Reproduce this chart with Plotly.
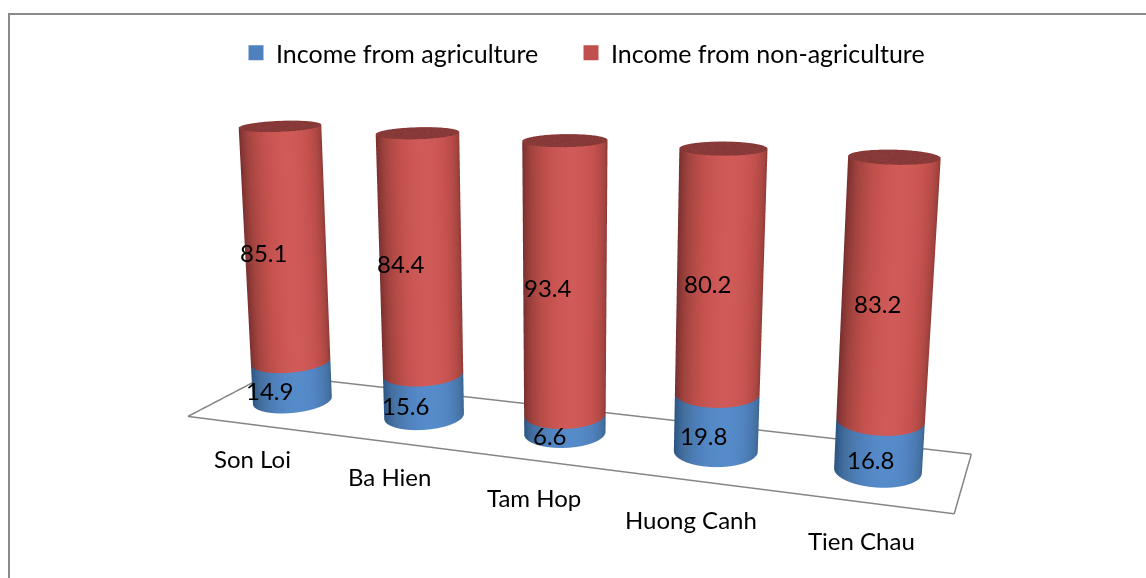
import numpy as np
import plotly.graph_objects as go

categories = ["Son Loi", "Ba Hien", "Tam Hop", "Huong Canh", "Tien Chau"]
agriculture = [14.9, 15.6, 6.6, 19.8, 16.8]
non_agriculture = [85.1, 84.4, 93.4, 80.2, 83.2]
series_names = ["Income from agriculture", "Income from non-agriculture"]

# label nudges in px (right, up) from the projected anchor
agri_shift = [(-22, -10), (-18, -11), (-15, -12), (-13, -13), (-9, -15)]
nonagri_shift = [(-22, -7), (-20, -8), (-17, -7), (-13, -10), (-10, -12)]
cat_shift = [(0, -36), (0, -36), (-2, -39), (-3, -41), (-3, -40)]

# page layout helpers (px in the 1146x578 window)
W, H, TOP = 1146, 1234, 327
def px(x): return x / W
def py(y): return 1 - (y + TOP) / H

FLOOR_X, FLOOR_Y, COL_H = 1.583, 0.327, 0.6
RADIUS = 0.0815
rx = RADIUS * 5 / FLOOR_X
ry = 1.15 * RADIUS * 1 / FLOOR_Y
AZ = np.radians(20.0)
DIST_H = 2.89
Z_LOW, FLOOR_Z = -2, -0.7
LIFT = COL_H * (-Z_LOW / 2) / 100
EYE = dict(x=DIST_H * np.sin(AZ), y=-DIST_H * np.cos(AZ), z=0.7 + LIFT)
PAD = 0.04  # margin of the 3D box around the floor

BLUE_SCALE = [[0, "#2c5585"], [0.4, "#44709f"], [0.8, "#4f81bd"], [1, "#568bca"]]
RED_SCALE = [[0, "#7b3130"], [0.4, "#a3443f"], [0.8, "#c4514e"], [1, "#cf5a58"]]
RED_CAP = "#8f3e3c"
theta = np.linspace(0, 2 * np.pi, 121)

LIGHT = dict(ambient=1, diffuse=0, specular=0, roughness=1, fresnel=0)
traces = []

def side(cx, z0, z1, scale):
    wx = (cx / 5 - 0.5) * FLOOR_X
    facing = np.arctan2(EYE["y"], EYE["x"] - wx)
    shade = np.clip(np.cos(theta - facing - np.radians(12)), 0, 1) ** 1.4
    x = np.array([cx + rx * np.cos(theta)] * 2)
    y = np.array([0.5 + ry * np.sin(theta)] * 2)
    z = np.array([np.full_like(theta, z0), np.full_like(theta, z1)])
    return go.Surface(x=x, y=y, z=z, surfacecolor=np.array([shade, shade]), colorscale=scale,
                      cmin=0, cmax=1, showscale=False, lighting=LIGHT, hoverinfo="skip")

def cap(cx, zv, color):
    rr = np.array([0, 1.0])
    x = cx + rx * np.outer(rr, np.cos(theta))
    y = 0.5 + ry * np.outer(rr, np.sin(theta))
    z = np.full_like(x, zv)
    return go.Surface(x=x, y=y, z=z, surfacecolor=np.zeros_like(x),
                      colorscale=[[0, color], [1, color]], showscale=False,
                      lighting=LIGHT, hoverinfo="skip")

for i in range(len(categories)):
    cx = i + 0.5
    a, b = agriculture[i], non_agriculture[i]
    traces.append(side(cx, 0, a, BLUE_SCALE))
    traces.append(side(cx, a, a + b, RED_SCALE))
    traces.append(cap(cx, a + b, RED_CAP))

for xs, ys in [([0, 5], [0, 0]), ([5, 5], [0, 1]), ([5, 0], [1, 1]), ([0, 0], [1, 0])]:
    traces.append(go.Scatter3d(x=xs, y=ys, z=[FLOOR_Z, FLOOR_Z], mode="lines",
                               line=dict(color="#858585", width=3), hoverinfo="skip", showlegend=False))

for name, col, lg in zip(series_names, ["#4F81BD", "#C0504D"], ["legend", "legend2"]):
    traces.append(go.Scatter(x=[None], y=[None], mode="markers", name=name, legend=lg,
                             marker=dict(symbol="square", size=15, color=col)))

FONT = dict(family="Lato, Carlito, sans-serif", size=24, color="#000000")
LEG_FONT = dict(FONT, size=25)
ann = []
for i in range(len(categories)):
    cx = i + 0.5
    a, b = agriculture[i], non_agriculture[i]
    ann.append(dict(x=cx, y=0.5, z=a / 2, text=f"{a}", showarrow=False, font=FONT,
                    xshift=agri_shift[i][0], yshift=agri_shift[i][1]))
    ann.append(dict(x=cx, y=0.5, z=a + b / 2, text=f"{b}", showarrow=False, font=FONT,
                    xshift=nonagri_shift[i][0], yshift=nonagri_shift[i][1]))
    ann.append(dict(x=cx, y=0, z=0, text=categories[i], showarrow=False, font=FONT,
                    xshift=cat_shift[i][0], yshift=cat_shift[i][1]))

hidden = dict(visible=False)
fig = go.Figure(traces)
LEGEND = dict(orientation="h", y=py(53), xanchor="left", yanchor="middle", font=LEG_FONT,
              bgcolor="rgba(0,0,0,0)")
fig.update_layout(
    width=W, height=H, autosize=False, margin=dict(l=0, r=0, t=0, b=0),
    paper_bgcolor="white", plot_bgcolor="white",
    xaxis=hidden, yaxis=hidden,
    font=FONT,
    legend=dict(LEGEND, x=px(236)),
    legend2=dict(LEGEND, x=px(571)),
    shapes=[dict(type="rect", xref="paper", yref="paper", x0=px(9), x1=px(1160), y0=py(14), y1=py(620),
                 line=dict(color="#8a8a8a", width=2), fillcolor="rgba(0,0,0,0)")],
    scene=dict(
        domain=dict(x=[0, 1130 / W], y=[0, 1]),
        xaxis=dict(range=[-PAD * 5, 5 + PAD * 5], **hidden),
        yaxis=dict(range=[-PAD, 1 + PAD], **hidden),
        zaxis=dict(range=[Z_LOW, 100], **hidden),
        aspectmode="manual",
        aspectratio=dict(x=FLOOR_X * (1 + 2 * PAD), y=FLOOR_Y * (1 + 2 * PAD), z=COL_H * (100 - Z_LOW) / 100),
        camera=dict(eye=EYE, center=dict(x=0, y=0, z=LIFT), up=dict(x=0, y=0, z=1),
                    projection=dict(type="perspective")),
        annotations=ann,
    ),
)
post = f"""
var gd=document.getElementById('{{plot_id}}');
document.documentElement.style.overflow='hidden';
document.body.style.margin='0';document.body.style.overflow='hidden';document.body.style.height='578px';
gd.style.marginTop='-{TOP}px';
"""
fig.write_html("out.html", post_script=post)
